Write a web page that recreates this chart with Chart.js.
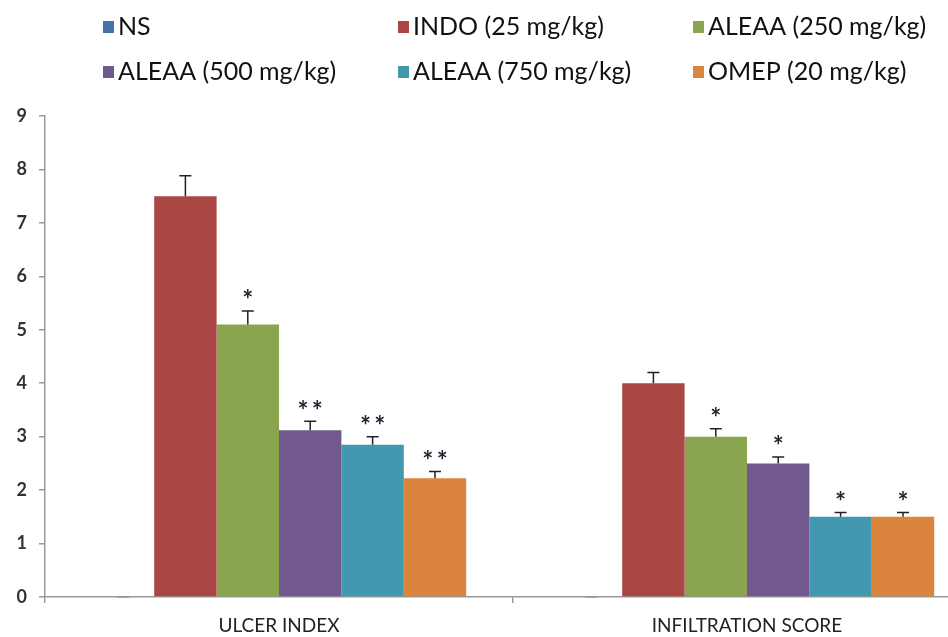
<!DOCTYPE html>
<html>
<head>
<meta charset="utf-8">
<script src="https://cdn.jsdelivr.net/npm/chart.js@4"></script>
<style>
  html, body { margin: 0; padding: 0; background: #fff; overflow: hidden; }
  #wrap { width: 990px; height: 637px; position: relative; }
</style>
</head>
<body>
<div id="wrap"><canvas id="BarChart"></canvas></div>
<script>
const categories = ['ULCER INDEX', 'INFILTRATION SCORE'];
const seriesNames = ['NS', 'INDO (25 mg/kg)', 'ALEAA (250 mg/kg)', 'ALEAA (500 mg/kg)', 'ALEAA (750 mg/kg)', 'OMEP (20 mg/kg)'];
const seriesColors = ['#4572A7', '#AA4643', '#89A54E', '#71588F', '#4198AF', '#DB843D'];
const yTicks = [0, 1, 2, 3, 4, 5, 6, 7, 8, 9];

const ns = [0, 0];
const indo = [7.5, 4.0];
const aleaa250 = [5.1, 3.0];
const aleaa500 = [3.12, 2.5];
const aleaa750 = [2.85, 1.5];
const omep = [2.22, 1.5];

const nsErr = [0, 0];
const indoErr = [0.38, 0.2];
const aleaa250Err = [0.25, 0.15];
const aleaa500Err = [0.17, 0.12];
const aleaa750Err = [0.15, 0.08];
const omepErr = [0.13, 0.08];

const nsSig = ['', ''];
const indoSig = ['', ''];
const aleaa250Sig = ['*', '*'];
const aleaa500Sig = ['**', '*'];
const aleaa750Sig = ['**', '*'];
const omepSig = ['**', '*'];

const values = [ns, indo, aleaa250, aleaa500, aleaa750, omep];
const errors = [nsErr, indoErr, aleaa250Err, aleaa500Err, aleaa750Err, omepErr];
const stars = [nsSig, indoSig, aleaa250Sig, aleaa500Sig, aleaa750Sig, omepSig];

const FONT = 'Lato, "Open Sans", sans-serif';

// error bars + significance stars
const errorBars = {
    id: 'errorBars',
    afterDatasetsDraw(chart) {
        const ctx = chart.ctx;
        const y = chart.scales.y;
        ctx.save();
        chart.data.datasets.forEach((ds, i) => {
            const meta = chart.getDatasetMeta(i);
            meta.data.forEach((bar, j) => {
                const top = y.getPixelForValue(ds.data[j] + errors[i][j]);
                ctx.strokeStyle = i === 0 ? '#999' : '#222';
                ctx.lineWidth = 1.5;
                ctx.beginPath();
                ctx.moveTo(bar.x, bar.y);
                ctx.lineTo(bar.x, top);
                ctx.moveTo(bar.x - 6, top);
                ctx.lineTo(bar.x + 6, top);
                ctx.stroke();
                const s = stars[i][j];
                if (s) {
                    ctx.fillStyle = '#1f2533';
                    ctx.font = 'bold 26px ' + FONT;
                    ctx.textAlign = 'center';
                    ctx.textBaseline = 'middle';
                    ctx.fillText(s.split('').join('\u2009'), bar.x, top - 10);
                }
            });
        });
        ctx.restore();
    }
};

// legend in fixed 3-column grid
const gridLegend = {
    id: 'gridLegend',
    afterDraw(chart) {
        const ctx = chart.ctx;
        ctx.save();
        ctx.font = '25px ' + FONT;
        ctx.textBaseline = 'middle';
        ctx.textAlign = 'left';
        chart.data.datasets.forEach((ds, i) => {
            const col = i % 3, row = Math.floor(i / 3);
            const x = 103 + col * 295;
            const yc = 27 + row * 45;
            ctx.fillStyle = ds.backgroundColor;
            ctx.fillRect(x, yc - 6, 11, 12);
            ctx.fillStyle = '#111';
            ctx.fillText(ds.label, x + 15, yc);
        });
        ctx.restore();
    }
};

new Chart(document.getElementById('BarChart').getContext('2d'), {
    type: 'bar',
    data: {
        labels: categories,
        datasets: seriesNames.map((name, i) => ({
            label: name,
            data: values[i],
            backgroundColor: seriesColors[i],
            borderWidth: 0,
            barPercentage: 1.0,
            categoryPercentage: 0.8
        }))
    },
    options: {
        responsive: true,
        maintainAspectRatio: false,
        animation: false,
        layout: { padding: { top: 116, right: 9, left: 0, bottom: 0 } },
        plugins: { legend: { display: false }, tooltip: { enabled: false } },
        scales: {
            x: {
                afterFit: s => { s.height = 40; },
                grid: { display: true, drawOnChartArea: false, drawTicks: true, tickLength: 6, color: '#999', lineWidth: 1.5 },
                border: { color: '#999', width: 1.5 },
                ticks: { color: '#222', font: { family: FONT, size: 19 }, padding: 11 }
            },
            y: {
                min: 0,
                max: 9,
                afterFit: s => { s.width = 45; },
                afterBuildTicks: s => { s.ticks = yTicks.map(v => ({ value: v })); },
                grid: { display: true, drawOnChartArea: false, drawTicks: true, tickLength: 6, color: '#999', lineWidth: 1.5 },
                border: { color: '#999', width: 1.5 },
                ticks: { color: '#333', font: { family: FONT, size: 18, weight: 'bold' }, padding: 12 }
            }
        }
    },
    plugins: [errorBars, gridLegend]
});
</script>
</body>
</html>
